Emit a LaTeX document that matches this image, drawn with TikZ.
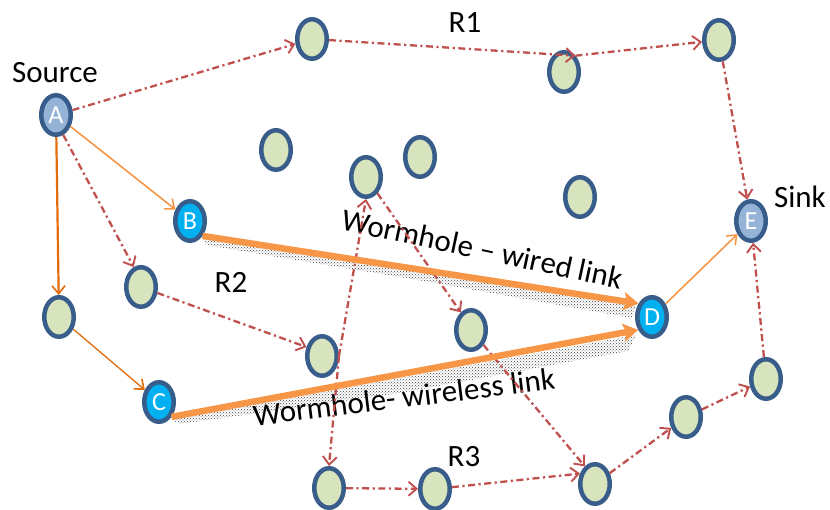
\documentclass[tikz,border=0pt]{standalone}
\usepackage{fontspec}
\setmainfont{Carlito}
\usetikzlibrary{arrows.meta,patterns,shapes.geometric}
\definecolor{nodeborder}{HTML}{385D8A}
\definecolor{greenfill}{HTML}{D7E4BD}
\definecolor{bluefill}{HTML}{95B3D7}
\definecolor{cyanfill}{HTML}{00B0F0}
\definecolor{redpath}{HTML}{C0504D}
\definecolor{orangeL}{HTML}{F79646}
\definecolor{orangeD}{HTML}{E46C0A}
\tikzset{
  sensor/.style={ellipse, draw=nodeborder, line width=4.5pt, fill=greenfill,
    minimum width=29.5pt, minimum height=39.5pt, inner sep=0pt},
  endpt/.style={sensor, fill=bluefill, text=white, font=\fontsize{26}{30}\selectfont},
  holept/.style={sensor, fill=cyanfill, text=white, font=\fontsize{26}{30}\selectfont},
  lbl/.style={font=\fontsize{31}{36}\selectfont, anchor=base, inner sep=0pt},
  route/.style={draw=redpath, line width=2.3pt, dash pattern=on 7pt off 3.5pt on 2.2pt off 3.5pt,
    -{Straight Barb[length=8pt,width=14pt,line width=1.9pt]}},
  thinor/.style={draw=orangeL, line width=1.6pt, -{Straight Barb[length=8pt,width=13pt,line width=1.6pt]}},
  darkor/.style={draw=orangeD, line width=1.3pt, -{Straight Barb[length=8pt,width=13pt,line width=1.6pt]}},
  hole/.style={draw=orangeL, line width=6.5pt, -{Stealth[length=15pt,width=18pt,inset=3pt]}},
  shadow/.style={pattern=crosshatch dots, pattern color=black!75, draw=none},
}
\begin{document}
\begin{tikzpicture}[x=1pt,y=-1pt]
\useasboundingbox (0,0) rectangle (830,510);
% shadows
\fill[shadow] (203,238) -- (636,303) -- (632,318) -- (430,282) -- (206,245) -- cycle;
\fill[shadow] (172,420) -- (636,335) -- (628,351) -- (400,393) -- (180,424) -- cycle;
% nodes
\node[endpt] (A) at (56,115) {A};
\node[holept] (B) at (190,221) {B};
\node[holept] (C) at (159,402) {C};
\node[holept] (D) at (652,317) {D};
\node[endpt] (E) at (751,221) {E};
\node[sensor] (n1) at (312,39) {};
\node[sensor] (r1m) at (564,72) {};
\node[sensor] (tr) at (719,40) {};
\node[sensor] (m1) at (276,150) {};
\node[sensor] (m2) at (366,177) {};
\node[sensor] (m3) at (420,157) {};
\node[sensor] (m4) at (580,197) {};
\node[sensor] (lft) at (59,317) {};
\node[sensor] (r2a) at (141,287) {};
\node[sensor] (r2b) at (322,356) {};
\node[sensor] (m5) at (471,330) {};
\node[sensor] (bot) at (329,488) {};
\node[sensor] (r3a) at (435,489) {};
\node[sensor] (r3b) at (595,484) {};
\node[sensor] (r3c) at (686,417) {};
\node[sensor] (r3d) at (766,379) {};
% labels
\node[lbl] (lsrc) at (55,83) {Source};
\node[lbl] (lr1) at (465,33) {R1};
\node[lbl] (lsink) at (800,208) {Sink};
\node[lbl] (lr2) at (231,293) {R2};
\node[lbl] (lr3) at (464,466) {R3};
\node[font=\fontsize{31}{36}\selectfont, rotate=-12, inner sep=0pt] (lwired) at (483,249) {Wormhole – wired link};
\node[font=\fontsize{31}{36}\selectfont, rotate=7, inner sep=0pt] (lwless) at (404,397) {Wormhole- wireless link};
% red routes
\draw[route] (A) -- (n1);
\draw[route] (n1) -- (r1m.55);
\draw[route] (r1m.55) -- (tr);
\draw[route] (tr) -- (E);
\draw[route] (A.-70) -- (r2a.110);
\draw[route] (r2a) -- (r2b.150);
\draw[route] (r2b.east) -- (m2.south);
\draw[route] (r2b.east) -- (bot.north);
\draw[route] (m2) -- (m5.120);
\draw[route] (m5) -- (r3b.120);
\draw[route] (bot) -- (r3a);
\draw[route] (r3a) -- (r3b.145);
\draw[route] (r3b) -- (r3c);
\draw[route] (r3c) -- (r3d);
\draw[route] (r3d) -- (E);
% orange
\draw[thinor] (A) -- (B);
\draw[darkor, line width=2.2pt] (A) -- (lft);
\draw[darkor] (lft) -- (C);
\draw[thinor] (D) -- (E);
\draw[hole] (B.-50) -- (D.135);
\draw[hole] (C.-50) -- (D.-137);
\end{tikzpicture}
\end{document}
